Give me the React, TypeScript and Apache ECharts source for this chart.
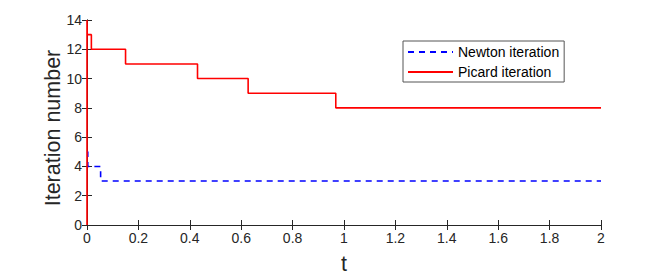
import React, { useEffect, useRef } from "react";
import * as echarts from "echarts";

const xTicks = [0, 0.2, 0.4, 0.6, 0.8, 1, 1.2, 1.4, 1.6, 1.8, 2];
const yTicks = [0, 2, 4, 6, 8, 10, 12, 14];
const seriesNames = ["Newton iteration", "Picard iteration"];
const xTitle = "t";
const yTitle = "Iteration number";
// change points (t, iteration count), drawn as step lines
const newtonT = [0, 0.003, 0.053, 2];
const newtonN = [5, 4, 3, 3];
const picardT = [0, 0, 0.001, 0.017, 0.15, 0.43, 0.627, 0.968, 2];
const picardN = [0, 14, 13, 12, 11, 10, 9, 8, 8];

const axisColor = "#262626";
const font = "'Liberation Sans', Arial, Helvetica, sans-serif";

export default function App() {
  const ref = useRef<HTMLDivElement>(null);
  useEffect(() => {
    if (!ref.current) return;
    const chart = echarts.init(ref.current, undefined, { renderer: "svg" });
    const xmin = xTicks[0];
    const xmax = xTicks[xTicks.length - 1];
    const ymin = yTicks[0];
    const ymax = yTicks[yTicks.length - 1];
    const mk = () => ({
      axisLine: { show: true, lineStyle: { color: axisColor, width: 1 } },
      splitLine: { show: false },
      axisTick: { show: true, inside: true, length: 5, lineStyle: { color: axisColor, width: 1 } },
    });
    chart.setOption({
      animation: false,
      backgroundColor: "#ffffff",
      textStyle: { fontFamily: font },
      grid: {
        left: 87,
        top: 20,
        width: 514,
        height: 205,
        show: false,
        containLabel: false,
        outerBoundsMode: "none",
      },
      graphic: [
        {
          type: "text",
          x: 53,
          y: 128,
          rotation: Math.PI / 2,
          style: {
            text: yTitle,
            fontSize: 21.5,
            fontFamily: font,
            fill: "#262626",
            align: "center",
            verticalAlign: "middle",
          },
        },
      ],
      legend: {
        orient: "vertical",
        left: 403,
        top: 41,
        data: seriesNames,
        itemWidth: 45,
        itemHeight: 14,
        itemGap: 6,
        padding: [4, 5, 3, 4],
        borderColor: "#555555",
        borderWidth: 1,
        backgroundColor: "#ffffff",
        itemStyle: { opacity: 0 },
        textStyle: { fontSize: 14, color: "#000000", fontFamily: font },
      },
      xAxis: [
        {
          type: "value",
          min: xmin,
          max: xmax,
          interval: 0.2,
          position: "bottom",
          ...mk(),
          name: xTitle,
          nameLocation: "middle",
          nameGap: 28,
          nameTextStyle: { fontSize: 21.5, color: "#262626", fontFamily: font },
          axisLabel: {
            fontSize: 14,
            color: "#262626",
            margin: 6,
            fontFamily: font,
            formatter: (v: number) => String(Math.round(v * 10) / 10),
          },
        },
        {
          type: "value",
          min: xmin,
          max: xmax,
          interval: 0.2,
          position: "top",
          ...mk(),
          axisLabel: { show: false },
        },
      ],
      yAxis: [
        {
          type: "value",
          min: ymin,
          max: ymax,
          interval: 2,
          position: "left",
          ...mk(),
          axisLabel: { fontSize: 14, color: "#262626", margin: 5, fontFamily: font },
        },
        {
          type: "value",
          min: ymin,
          max: ymax,
          interval: 2,
          position: "right",
          ...mk(),
          axisLabel: { show: false },
        },
      ],
      series: [
        {
          name: seriesNames[0],
          type: "line",
          step: "end",
          showSymbol: false,
          symbol: "none",
          z: 2,
          data: newtonT.map((t, i) => [t, newtonN[i]]),
          lineStyle: { color: "#0000ff", width: 1.6, type: [6, 5] },
          itemStyle: { color: "#0000ff" },
        },
        {
          name: seriesNames[1],
          type: "line",
          step: "end",
          showSymbol: false,
          symbol: "none",
          z: 3,
          data: picardT.map((t, i) => [t, picardN[i]]),
          lineStyle: { color: "#ff0000", width: 1.6 },
          itemStyle: { color: "#ff0000" },
        },
      ],
    });
    return () => chart.dispose();
  }, []);
  return <div ref={ref} style={{ width: 664, height: 276, position: "absolute", left: 0, top: 0 }} />;
}
